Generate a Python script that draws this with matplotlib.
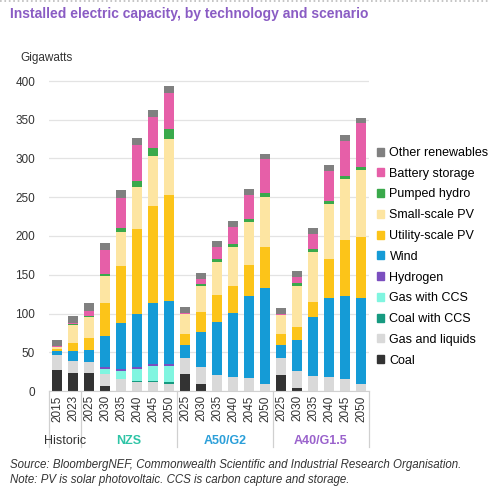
import numpy as np
import matplotlib
matplotlib.use("Agg")
import matplotlib.pyplot as plt
from matplotlib.lines import Line2D
from matplotlib.patches import Patch

plt.rcParams['font.family'] = ['Liberation Sans', 'DejaVu Sans']

years = ['2015', '2023',
         '2025', '2030', '2035', '2040', '2045', '2050',
         '2025', '2030', '2035', '2040', '2045', '2050',
         '2025', '2030', '2035', '2040', '2045', '2050']
groups = ['Historic', 'NZS', 'A50/G2', 'A40/G1.5']
group_colors = ['#333333', '#2ec4a6', '#2b9fd9', '#9a62cc']

# Gigawatts
coal = [27, 23, 23, 6.5, 0, 0, 0, 0, 21.5, 9, 0, 0, 0, 0, 20.5, 4.5, 0, 0, 0, 0]
gas_liquids = [19, 16, 15, 15, 15, 11, 11, 8.5, 21.5, 22.5, 20.5, 18.5, 16.5, 9,
               21.5, 21.5, 20, 17.5, 15, 8.5]
coal_ccs = [0, 0, 0, 1, 1, 2, 2, 2.5, 0, 0, 0, 0, 0, 0, 0, 0, 0, 0, 0, 0]
gas_ccs = [0, 0, 0, 6, 10, 15.5, 19, 21, 0, 0, 0, 0, 0, 0, 0, 0, 0, 0, 0, 0]
hydrogen = [0, 0, 0, 2, 2.5, 2, 3, 3, 0, 0, 0, 0, 0, 0, 0, 0, 0, 0, 0, 0]
wind = [6, 12, 15.5, 41, 59, 68.5, 79, 81, 17, 44, 69, 82.5, 106.5, 124.5,
        18, 40, 76, 102, 107.5, 111]
utility_pv = [2, 11, 14.5, 42, 73.5, 110, 125, 137, 13, 26.5, 34.5, 35, 40, 52,
              13, 16, 19, 50.5, 72.5, 79.5]
small_pv = [2.5, 23, 27, 35, 44, 54, 64, 72, 26, 33, 42, 50, 55, 65,
            25, 54, 64, 71, 78, 86]
pumped_hydro = [0.5, 1, 1.5, 3, 5, 8.5, 10, 13, 0.5, 3.5, 4, 4, 4.5, 5.5,
                0.5, 4, 4, 4, 4.5, 4.5]
battery = [0.5, 2, 7, 30, 39, 45.5, 40, 46, 1.5, 6, 16, 22, 31, 43.5,
           1.5, 7.5, 20, 39, 45, 56]
other_renew = [8, 9, 9.5, 9, 10, 10, 10, 9.5, 7.5, 7.5, 7, 7, 6.5, 6,
               7.5, 7.5, 7, 8, 8, 6.5]

series = [
    ('Coal', coal, '#333333'),
    ('Gas and liquids', gas_liquids, '#d9d9d9'),
    ('Coal with CCS', coal_ccs, '#169a80'),
    ('Gas with CCS', gas_ccs, '#80f5e0'),
    ('Hydrogen', hydrogen, '#7b4fbf'),
    ('Wind', wind, '#159bd6'),
    ('Utility-scale PV', utility_pv, '#fcc419'),
    ('Small-scale PV', small_pv, '#fde5a2'),
    ('Pumped hydro', pumped_hydro, '#3aa94b'),
    ('Battery storage', battery, '#e65fa8'),
    ('Other renewables', other_renew, '#808080'),
]

fig = plt.figure(figsize=(4.89, 4.86), dpi=100)
ax = fig.add_axes([49 / 489, 95 / 486, 320 / 489, 317.75 / 486])

x = np.arange(len(years))
bottom = np.zeros(len(years))
for name, vals, col in series:
    ax.bar(x, vals, 0.68, bottom=bottom, color=col, label=name, zorder=2)
    bottom += np.array(vals)

ax.set_xlim(-0.5, len(years) - 0.5)
ax.set_ylim(0, 410)
ax.set_yticks(range(0, 401, 50))
ax.yaxis.grid(True, color='#e3e3e3', linewidth=0.9, zorder=0)
ax.tick_params(axis='y', length=0, labelsize=8.5, pad=10, colors='#333333')
ax.set_xticks(x)
ax.set_xticklabels(years, rotation=90, fontsize=8.5, color='#333333')
ax.tick_params(axis='x', length=0, pad=3)
for s in ['top', 'right', 'left']:
    ax.spines[s].set_visible(False)
ax.spines['bottom'].set_color('#d0d0d0')

# group separators and group labels
bounds = [-0.5, 1.5, 7.5, 13.5, 19.5]
for b in bounds:
    ax.plot([b, b], [0, -72], color='#d0d0d0', linewidth=0.9, clip_on=False)
for i, g in enumerate(groups):
    mid = (bounds[i] + bounds[i + 1]) / 2
    ax.text(mid, -65, g, ha='center', va='center', fontsize=9,
            color=group_colors[i], fontweight='normal' if i == 0 else 'bold')

handles = [Patch(color=col, label=name) for name, _, col in series][::-1]
fig.legend(handles=handles, loc='upper left', bbox_to_anchor=(377 / 489, 1 - 147 / 486),
           frameon=False, fontsize=9, handlelength=0.6, handleheight=0.6,
           handletextpad=0.4, labelspacing=0.7, borderpad=0, borderaxespad=0)

fig.text(10 / 489, 1 - 14 / 486, 'Installed electric capacity, by technology and scenario',
         fontsize=10, fontweight='bold', color='#8a5cc4', va='center')
fig.text(20 / 489, 1 - 58 / 486, 'Gigawatts', fontsize=8.5, color='#333333', va='center')
fig.text(10 / 489, 1 - 465 / 486,
         'Source: BloombergNEF, Commonwealth Scientific and Industrial Research Organisation.',
         fontsize=8.3, style='italic', color='#333333', va='center')
fig.text(10 / 489, 1 - 480 / 486,
         'Note: PV is solar photovoltaic. CCS is carbon capture and storage.',
         fontsize=8.3, style='italic', color='#333333', va='center')

fig.add_artist(Line2D([0, 1], [1 - 1.5 / 486, 1 - 1.5 / 486], color='#bbbbbb',
                      linestyle=':', linewidth=1.2))

fig.savefig('out.png', dpi=100)
